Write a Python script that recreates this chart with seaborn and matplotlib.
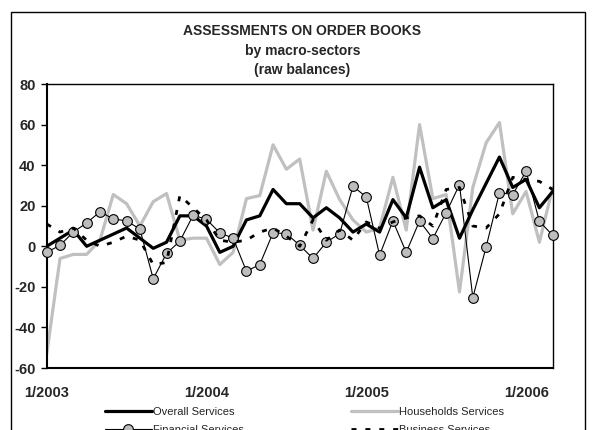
import numpy as np
import pandas as pd
import matplotlib
matplotlib.use("Agg")
import matplotlib.pyplot as plt
import seaborn as sns
from matplotlib.patches import Rectangle

# ---- data (monthly, 1/2003 .. 3/2006) ----
months = pd.date_range("2003-01-01", periods=39, freq="MS")
overall = [0, 4, 8, 0, 3, 6, 9, 4, -1, 2, 15, 15, 10, -3, 0, 13, 15, 28, 21, 21,
           14, 19, 14, 7, 11, 7, 23, 14, 39, 19, 23, 4, 18, 31, 44, 29, 33, 19, 27]
households = [-53, -6, -4, -4, 3, 25.5, 21, 10, 22, 26, 3, 4, 4, -9, -3, 23.5, 25, 50,
              38, 43, 8, 37, 23, 13, 7, 9, 34, 8, 60, 23.5, 25.5, -22.5, 29, 51, 61,
              16, 27, 2, 29]
financial = [-3, 0.5, 7, 11.5, 17, 13.5, 12.5, 8.5, -16, -3.5, 2.5, 15.3, 13.3, 6.6,
             4, -12.3, -9, 6.7, 6.2, 0.5, -6, 2, 6.2, 29.6, 24.3, -4.4, 12.5, -3, 12.5,
             3.8, 16.6, 30.4, -25.3, -0.3, 26.4, 25.5, 37, 12.3, 5.4]
business = [11, 7, 9, 3, 0, 2, 5, 3, -9, -8, 25, 19, 13, 3, 2, 3, 7, 9, 5, 0,
            13, 3, 8, 3, 12, 9, 12, 14, 15, 10, 28, 29, 10, 9, 16, 34, 33, 32, 28]
year_labels = ["1/2003", "1/2004", "1/2005", "1/2006"]
y_ticks = [-60, -40, -20, 0, 20, 40, 60, 80]

df = pd.DataFrame({"t": np.arange(len(months)), "overall": overall,
                   "households": households, "financial": financial,
                   "business": business})

sns.set_style("white")
plt.rcParams["font.family"] = ["Liberation Sans", "DejaVu Sans"]

fig = plt.figure(figsize=(5.95, 4.30), dpi=100)
ax = fig.add_axes([46.7 / 595, 1 - 368 / 430, (552.7 - 46.7) / 595, (368 - 84) / 430])

sns.lineplot(data=df, x="t", y="households", ax=ax, color="#c0c0c0", lw=2.3,
             label="Households Services", zorder=2)
sns.lineplot(data=df, x="t", y="overall", ax=ax, color="black", lw=2.3,
             label="Overall Services", zorder=3)
sns.lineplot(data=df, x="t", y="financial", ax=ax, color="black", lw=0.8,
             marker="o", markersize=7, markerfacecolor="#bdbdbd",
             markeredgecolor="black", markeredgewidth=0.8,
             label="Financial Services", zorder=4, clip_on=False)
sns.lineplot(data=df, x="t", y="business", ax=ax, color="black", lw=2.0,
             dashes=False, label="Business Services", zorder=5)
ax.lines[-1].set_dashes((1.8, 3.2))

ax.set_xlim(0, 38)
ax.set_ylim(-60, 80)
ax.set_xlabel("")
ax.set_ylabel("")
ax.set_yticks(y_ticks)
ax.set_yticklabels([str(v) for v in y_ticks], fontsize=10.5, fontweight="bold")
ax.set_xticks([0, 12, 24, 36])
ax.set_xticklabels(year_labels, fontsize=10.5, fontweight="bold")
ax.set_xticks(np.arange(0, 39), minor=True)
ax.tick_params(axis="x", which="major", direction="inout", length=7.5, width=1,
               color="black", pad=9)
ax.tick_params(axis="x", which="minor", direction="in", length=2.3, width=0.8,
               color="black")
ax.tick_params(axis="y", which="major", direction="out", length=4, width=1,
               color="black", pad=4, left=True)
for s in ax.spines.values():
    s.set_visible(True)
    s.set_color("black")
    s.set_linewidth(1.0)
ax.spines["left"].set_linewidth(1.5)
ax.spines["bottom"].set_linewidth(1.5)

# titles
fig.text(0.508, 1 - 31 / 430, "ASSESSMENTS ON ORDER BOOKS", ha="center", va="center",
         fontsize=10, fontweight="bold")
fig.text(0.508, 1 - 51 / 430, "by macro-sectors", ha="center", va="center",
         fontsize=10, fontweight="bold")
fig.text(0.508, 1 - 70 / 430, "(raw balances)", ha="center", va="center",
         fontsize=10, fontweight="bold")

# legend (column-major: Overall, Financial | Households, Business)
ax.get_legend().remove()
h, l = ax.get_legend_handles_labels()
order = [l.index("Overall Services"), l.index("Financial Services"),
         l.index("Households Services"), l.index("Business Services")]
fig.legend([h[i] for i in order], [l[i] for i in order], ncol=2,
           loc="upper left", bbox_to_anchor=(105 / 595, 1 - 407 / 430),
           frameon=False, borderpad=0, borderaxespad=0, fontsize=8,
           handlelength=4.2, handletextpad=0.15, columnspacing=9.6,
           labelspacing=0.7)

# outer frame (bottom cropped)
fig.patches.append(Rectangle((11 / 595, -0.2), (585 - 11) / 595, 0.2 + 1 - 12 / 430,
                             transform=fig.transFigure, fill=False,
                             edgecolor="black", lw=1.0))

fig.savefig("out.png", dpi=100)
